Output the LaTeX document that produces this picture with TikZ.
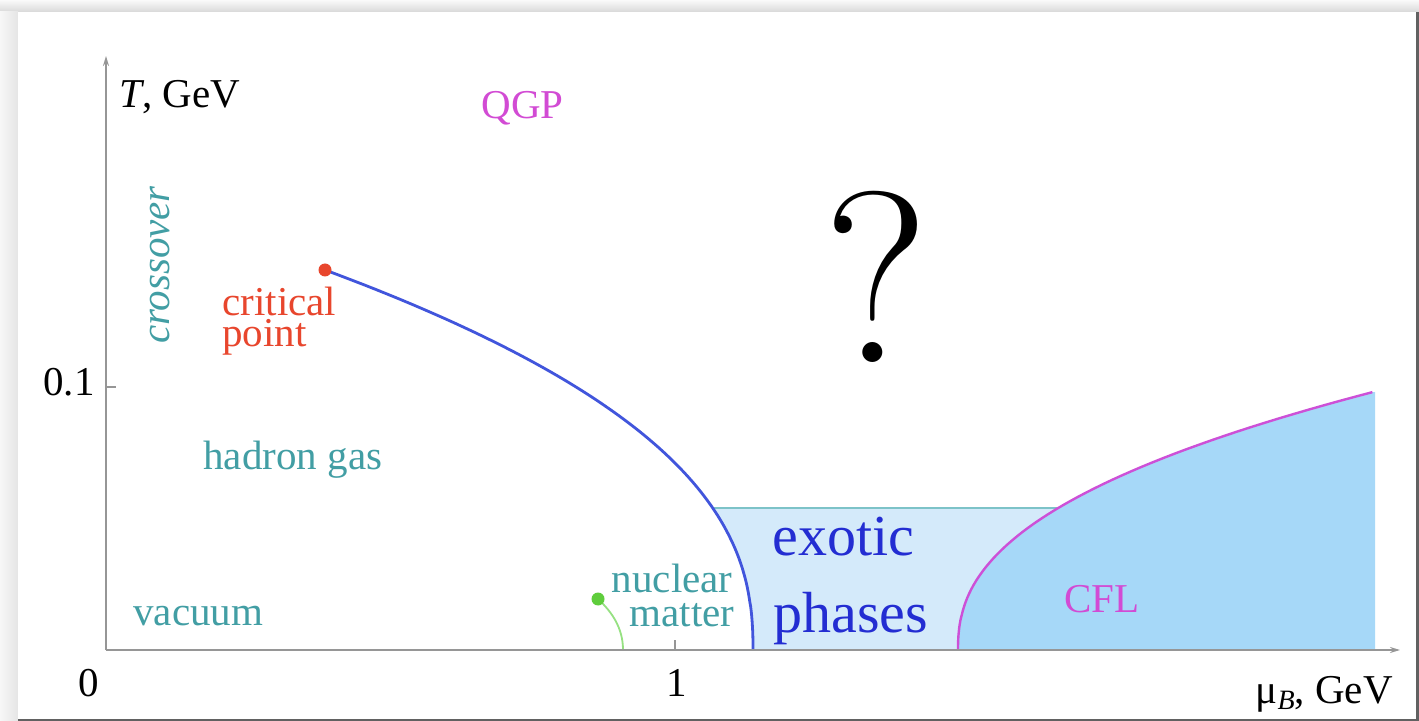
\documentclass[tikz,border=0pt]{standalone}
\usepackage{fontspec}
\newfontfamily\tms{Liberation Serif}
\usetikzlibrary{arrows.meta}
\definecolor{tealtxt}{RGB}{66,158,164}
\definecolor{redtxt}{RGB}{232,70,45}
\definecolor{exotxt}{RGB}{35,45,210}
\definecolor{magtxt}{RGB}{210,75,212}
\definecolor{blueln}{RGB}{65,85,220}
\definecolor{magln}{RGB}{205,80,215}
\definecolor{tealln}{RGB}{125,195,200}
\definecolor{exofill}{RGB}{212,234,250}
\definecolor{cflfill}{RGB}{166,216,248}
\definecolor{gdot}{RGB}{95,205,60}
\definecolor{gline}{RGB}{150,225,130}
\definecolor{axisgray}{RGB}{150,150,150}
\begin{document}
\begin{tikzpicture}[x=0.5pt,y=-0.5pt,
  lbl/.style={font=\tms\fontsize{20.5pt}{16pt}\selectfont, inner sep=0pt},
  biglbl/.style={font=\tms\fontsize{29pt}{29pt}\selectfont, inner sep=0pt, text=exotxt},
  axis/.style={draw=axisgray, line width=0.9pt, -{Stealth[length=5pt,width=3pt]}},
  tick/.style={draw=axisgray, line width=0.8pt},
  blueline/.style={draw=blueln, line width=1.4pt},
  magline/.style={draw=magln, line width=1.2pt},
  tealline/.style={draw=tealln, line width=1.4pt},
  greenline/.style={draw=gline, line width=0.9pt}]
\useasboundingbox (0,0) rectangle (1419,721);
% screenshot frame
\fill[black!5] (0,0) rectangle (1419,721);
\shade[top color=black!2, bottom color=black!15] (0,0) rectangle (1419,12);
\shade[left color=black!3, right color=black!10] (0,12) rectangle (18,721);
\fill[white] (18,12) rectangle (1416,719);
\fill[black!62] (1416,12) rectangle (1419,721);
\fill[black!62] (18,719) rectangle (1419,721);
% coordinates
\coordinate (o) at (106,650);
\coordinate (xend) at (1400,650);
\coordinate (yend) at (106,56);
\coordinate (cp) at (325,270);
\coordinate (nm) at (598,599);
\coordinate (nmb) at (623,650);
\coordinate (exoL) at (712.7,508);
\coordinate (exoR) at (1058,508);
\coordinate (cflTop) at (1375,392);
\coordinate (cflBot) at (1375,650);
% fills
\fill[exofill] (exoL) -- (exoR)
  -- plot[domain=0:0.5499, samples=40, variable=\u] ({958+415*(0.55-\u)^2.38},{650-258*(0.55-\u)})
  -- (753,650)
  -- plot[domain=0.0001:0.3737, samples=30, variable=\t] ({325+428*(1-(\t)^2.4)},{650-380*\t}) -- cycle;
\fill[cflfill] plot[domain=0.0001:1, samples=60, variable=\v] ({958+415*(\v)^2.38},{650-258*\v})
  -- (cflTop) -- (cflBot) -- cycle;
% phase boundaries
\draw[tealline] (exoL) -- (exoR);
\draw[blueline] plot[domain=0.0001:1, samples=80, variable=\t] ({325+428*(1-(\t)^2.4)},{650-380*\t});
\draw[magline] plot[domain=0.0001:1, samples=60, variable=\v] ({958+415*(\v)^2.38},{650-258*\v});
\draw[greenline] (nm) .. controls (612,612) and (623,628) .. (nmb);
% axes
\draw[axis] (o) -- (xend);
\draw[axis] (o) -- (yend);
\draw[tick] (106,387) coordinate (t1) -- (116,387);
\draw[tick] (675,640) -- (675,650) coordinate (t2);
% dots
\fill[redtxt] (cp) circle (6.5);
\fill[gdot] (nm) circle (6.5);
% labels
\node[lbl, anchor=base west] (tl) at (119,108) {\textit{T}, GeV};
\node[lbl, anchor=base east] (ml) at (1393,703) {μ\raisebox{-0.35ex}{\fontsize{14pt}{14pt}\selectfont\textit{B}}, GeV};
\node[lbl, anchor=base] (zero) at (89,696) {0};
\node[lbl, anchor=base] (one) at (677,696) {1};
\node[lbl, anchor=base east] (pt1) at (95,396) {0.1};
\node[lbl, anchor=base west, text=magtxt] (qgp) at (481,119) {QGP};
\node[lbl, rotate=90, text=tealtxt, font=\tms\itshape\fontsize{20.5pt}{16pt}\selectfont] (cross) at (160,265) {crossover};
\node[lbl, anchor=base west, text=redtxt] (cpl1) at (222,316) {critical};
\node[lbl, anchor=base west, text=redtxt] (cpl2) at (222,347) {point};
\node[lbl, anchor=base west, text=tealtxt] (hg) at (203,470) {hadron gas};
\node[lbl, anchor=base west, text=tealtxt] (vac) at (133,625) {vacuum};
\node[lbl, anchor=base east, text=tealtxt] (nml1) at (733,592) {nuclear};
\node[lbl, anchor=base east, text=tealtxt] (nml2) at (735,626) {matter};
\node[biglbl, anchor=base west] (exo1) at (772,555) {exotic};
\node[biglbl, anchor=base west] (exo2) at (773,632) {phases};
\node[lbl, anchor=base west, text=magtxt] (cfl) at (1064,612) {CFL};
\node[inner sep=0pt, anchor=base, font=\fontsize{122pt}{122pt}\selectfont] (q) at (876,363) {?};
\end{tikzpicture}
\end{document}
